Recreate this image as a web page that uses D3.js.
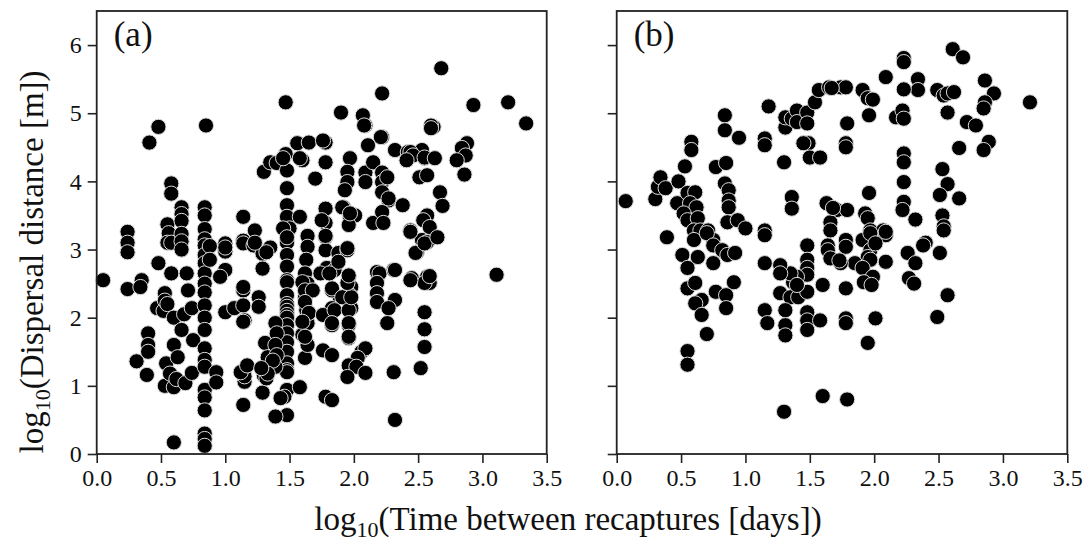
<!DOCTYPE html>
<html>
<head>
<meta charset="utf-8">
<script src="https://cdn.jsdelivr.net/npm/d3@7"></script>
<style>
html,body{margin:0;padding:0;background:#fff;}
svg{display:block;}
text{font-family:"Liberation Serif","Times New Roman",serif;fill:#111;}
</style>
</head>
<body>
<svg id="chart" width="1091" height="554"></svg>
<script>
// ---------- data ----------
const xTicks = [0, 0.5, 1.0, 1.5, 2.0, 2.5, 3.0, 3.5];
const yTicks = [0, 1, 2, 3, 4, 5, 6];
const panelLabels = ["(a)", "(b)"];

const panelA = [
[0.05,2.55],
[0.24,3.26],[0.24,3.1],[0.24,2.96],[0.24,2.42],
[0.31,1.36],[0.35,2.55],[0.34,2.45],
[0.41,4.57],[0.48,4.8],
[0.4,1.77],[0.4,1.6],[0.4,1.5],[0.39,1.16],
[0.48,2.8],
[0.47,2.14],[0.52,2.1],[0.53,2.36],[0.53,2.25],[0.55,2.2],
[0.54,1.33],[0.53,1.0],
[0.55,3.37],[0.56,3.24],[0.55,3.1],[0.58,3.97],[0.58,3.82],
[0.58,2.65],[0.58,3.1],
[0.6,2.0],[0.6,1.6],[0.63,1.42],[0.57,1.18],[0.6,0.98],[0.62,1.1],
[0.6,0.17],
[0.66,3.62],[0.66,3.52],[0.66,3.42],[0.66,3.23],[0.66,3.12],[0.66,3.0],
[0.66,1.82],[0.68,2.05],
[0.7,2.65],[0.71,2.4],
[0.69,1.04],[0.74,1.19],
[0.74,2.14],[0.75,1.67],
[0.84,3.62],[0.84,3.5],[0.84,3.3],[0.84,3.15],[0.84,3.06],[0.84,2.92],[0.84,2.8],[0.84,2.65],[0.84,2.5],[0.84,2.37],[0.84,2.18],[0.84,2.0],[0.84,1.82],[0.84,1.55],[0.84,1.38],[0.84,1.28],[0.84,0.94],[0.84,0.83],[0.84,0.64],[0.84,0.3],[0.84,0.22],[0.84,0.12],
[0.85,4.82],
[0.88,3.05],[0.88,2.85],
[0.93,1.2],[0.93,1.05],
[1.0,2.08],[1.0,3.09],[1.0,2.97],[1.0,2.7],[0.96,2.6],[1.0,3.03],
[1.07,2.14],
[1.14,3.48],
[1.14,2.4],[1.14,2.18],[1.15,1.96],[1.14,1.94],
[1.14,0.72],
[1.15,1.23],[1.15,1.06],[1.15,1.14],[1.12,1.2],[1.17,1.3],
[1.14,3.13],[1.14,3.09],[1.22,3.06],[1.29,2.94],[1.35,3.03],
[1.23,3.28],[1.23,3.1],
[1.26,2.3],[1.26,2.16],
[1.3,4.14],
[1.32,2.96],[1.29,2.72],[1.14,2.45],
[1.31,1.63],[1.29,1.26],[1.3,1.15],[1.29,0.9],[1.32,1.11],[1.33,1.42],
[1.35,4.28],[1.4,4.27],[1.47,4.4],[1.48,4.16],[1.56,4.56],[1.6,4.31],[1.65,4.57],[1.45,4.34],[1.58,4.34],[1.78,4.57],[1.78,4.28],[1.76,4.6],
[1.47,5.16],
[1.7,4.04],
[1.48,3.9],[1.48,3.65],[1.48,3.48],[1.5,3.31],[1.45,3.31],[1.48,3.1],[1.48,3.18],[1.48,2.92],[1.48,2.75],[1.48,2.55],[1.48,2.52],[1.48,2.33],[1.48,2.2],[1.48,2.16],[1.48,2.1],[1.48,2.04],[1.48,2.0],[1.48,1.89],[1.48,1.77],[1.48,1.64],[1.48,1.5],[1.48,1.33],[1.48,1.23],[1.48,1.2],[1.48,0.94],[1.46,0.84],[1.48,0.57],[1.39,0.55],
[1.39,1.92],[1.4,1.77],[1.39,1.6],[1.4,1.45],[1.39,1.28],[1.37,1.37],[1.33,1.18],[1.28,1.26],
[1.58,3.48],
[1.58,0.98],
[1.6,1.75],[1.62,1.41],[1.64,1.6],
[1.64,3.2],[1.64,3.04],[1.63,2.85],[1.62,2.65],[1.64,2.5],[1.62,2.3],[1.63,2.11],[1.64,1.92],[1.62,1.72],[1.6,2.52],[1.62,2.4],[1.68,2.4],[1.62,2.23],[1.65,2.07],[1.6,1.94],
[1.78,3.6],[1.78,3.39],[1.75,3.43],[1.78,3.18],[1.78,2.99],[1.79,2.73],[1.85,2.7],[1.88,2.95],[1.95,2.99],[1.96,2.6],[1.78,3.2],
[1.92,3.62],[1.97,3.48],[2.01,3.5],[1.96,3.36],[1.91,3.62],[1.97,3.53],
[1.88,2.82],[1.95,3.02],
[1.98,2.45],[1.97,2.33],[1.89,2.3],[1.98,2.14],[1.96,1.89],[1.96,1.7],[1.83,2.4],[1.83,2.14],[1.83,1.89],[1.76,2.04],
[1.83,2.43],[1.91,2.3],[1.85,2.11],[1.83,1.92],[1.96,2.11],[1.98,2.3],[1.96,1.92],[1.96,1.72],[1.95,2.51],[1.74,2.65],[1.81,2.65],[1.96,2.62],
[2.06,1.5],[2.09,1.55],[2.03,1.41],[1.96,1.3],[2.02,1.28],[2.09,1.19],[1.95,1.13],
[1.76,1.52],[1.83,1.45],
[1.78,0.84],[1.83,0.79],
[1.43,0.82],
[2.09,4.82],[2.62,4.8],[2.22,4.65],[2.11,4.53],[2.32,4.46],[2.42,4.43],[2.49,4.41],[2.53,4.46],[2.55,4.34],
[1.97,4.34],[1.95,4.14],[1.95,3.99],[1.93,3.87],
[2.09,4.13],[2.09,3.99],[2.15,4.28],
[2.22,4.13],[2.22,3.99],[2.22,3.84],[2.27,3.72],
[2.51,4.06],[2.57,4.09],
[2.38,3.65],[2.67,3.84],[2.69,3.64],
[2.15,3.39],[2.22,3.55],[2.23,3.39],
[2.44,3.28],
[2.57,3.5],[2.54,3.43],[2.59,3.33],[2.53,3.14],[2.57,3.11],[2.49,2.96],
[2.18,2.67],[2.2,2.65],[2.31,2.7],[2.45,2.58],[2.57,2.6],[2.59,2.51],[2.18,2.51],
[2.68,5.66],[2.22,5.29],[2.93,5.12],[3.2,5.16],[3.34,4.85],[1.9,5.01],[2.07,4.97],[2.08,4.82],[2.6,4.82],[2.6,4.78],[2.21,4.65],
[2.44,4.43],[2.46,4.38],[2.55,4.35],[2.63,4.34],[2.41,4.31],
[2.88,4.56],[2.84,4.49],[2.87,4.38],[2.8,4.31],[2.86,4.1],
[2.26,4.06],[2.27,3.75],
[3.11,2.63],[2.32,0.5],[2.31,1.2],[2.52,1.26],[2.55,1.57],[2.55,1.83],[2.55,2.08],[2.55,2.51],[2.59,2.61],[2.44,2.55],[2.32,2.7],[2.32,2.26],
[2.18,2.36],[2.18,2.23],[2.27,2.14],[2.26,1.92],
[2.48,2.95],[2.55,3.09],[2.65,3.18],[2.44,3.26]
];

const panelB = [
[0.07,3.71],
[0.3,3.74],[0.32,3.92],[0.34,4.06],[0.38,3.9],
[0.48,4.0],[0.53,4.22],[0.58,4.58],[0.58,4.46],[0.47,3.68],[0.39,3.18],
[0.55,3.83],[0.61,3.84],[0.57,3.68],[0.62,3.62],[0.52,3.53],[0.55,3.43],[0.63,3.46],[0.6,3.28],[0.65,3.28],[0.71,3.28],[0.75,3.14],[0.6,3.14],
[0.77,4.21],[0.85,4.27],[0.84,4.97],[0.84,4.75],[0.95,4.64],
[0.84,3.97],[0.87,3.87],[0.87,3.72],[0.87,3.62],[0.86,3.4],[0.94,3.43],[1.0,3.31],
[1.15,4.63],[1.15,4.53],[1.18,5.1],[1.15,3.28],[1.15,3.21],
[1.31,4.79],[1.31,4.94],[1.36,4.92],[1.4,5.04],[1.4,4.87],[1.48,5.01],[1.48,4.85],[1.49,4.56],[1.45,4.56],[1.5,4.35],[1.58,4.35],[1.54,5.16],[1.57,5.34],[1.65,5.38],[1.74,5.38],
[1.3,4.28],[1.36,3.77],[1.36,3.6],[1.63,3.68],[1.71,3.58],[1.66,3.4],[1.66,3.28],[1.48,3.06],[1.64,3.06],
[2.61,5.94],[2.69,5.82],[2.23,5.81],[2.23,5.75],[2.09,5.53],[2.34,5.5],[2.34,5.34],[2.23,5.35],[1.78,5.38],[1.67,5.37],
[1.91,5.34],[1.95,5.22],[1.99,5.2],[1.96,4.97],[1.79,4.85],[1.78,4.56],[1.78,4.5],
[2.17,4.94],[2.22,5.04],[2.23,4.92],
[2.49,5.34],[2.54,5.26],[2.57,5.29],[2.62,5.31],[2.57,5.01],
[2.86,5.48],[2.93,5.29],[2.86,5.16],[2.85,5.07],[3.21,5.16],
[2.72,4.87],[2.79,4.82],[2.66,4.49],[2.89,4.58],[2.85,4.46],
[2.23,4.41],[2.23,4.28],[2.23,3.99],[2.23,3.7],[2.22,3.58],
[1.96,3.83],[2.32,3.44],
[2.53,4.18],[2.57,3.96],[2.51,3.8],[2.66,3.75],[2.53,3.5],[2.54,3.34],[2.4,3.1],
[1.79,3.58],[1.93,3.53],[1.95,3.46],[1.97,3.28],[2.07,3.28],[2.09,3.21],[1.91,3.14],[1.78,3.14],[1.68,3.61],
[1.64,2.99],[1.78,3.04],[1.97,3.24],[1.97,2.99],[2.01,3.09],[2.09,3.26],[2.09,2.82],[1.95,2.89],[1.97,2.85],[1.85,2.8],[1.91,2.73],[1.74,2.8],[1.66,2.87],[1.99,2.6],[1.92,2.52],[1.98,2.48],
[2.26,2.95],[2.32,2.8],[2.38,3.06],[2.51,2.95],[2.27,2.58],[2.31,2.5],[2.57,2.33],[2.49,2.01],[2.01,1.99],[1.78,1.99],[1.78,1.92],[1.95,1.63],[1.6,2.48],[1.78,2.43],
[1.48,2.85],[1.48,2.73],[1.48,2.63],[1.4,2.6],[1.37,2.52],[1.35,2.65],[1.27,2.77],[1.27,2.65],[1.27,2.36],[1.35,2.3],[1.41,2.3],[1.48,2.38],[1.48,2.08],[1.48,1.96],[1.48,1.82],[1.58,1.96],
[1.15,2.8],[1.15,2.11],[1.17,1.92],[1.31,2.11],[1.31,1.89],[1.31,1.74],
[0.51,2.92],[0.55,2.73],[0.63,2.89],[0.55,2.43],[0.61,2.51],[0.66,2.26],[0.61,2.21],[0.66,2.04],[0.7,1.76],[0.55,1.51],[0.55,1.31],
[0.7,3.24],[0.75,3.06],[0.82,2.99],[0.86,2.92],[0.75,2.8],[0.92,2.95],[0.91,2.52],[0.77,2.38],[0.85,2.33],[0.85,2.14],
[1.3,0.62],[1.6,0.85],[1.79,0.8],
[2.54,3.28],[1.73,2.84],[1.4,2.48]
];

// ---------- layout ----------
const svg = d3.select("#chart");
const plotTop = 11, plotBottom = 454;
const panels = [
  {data: panelA, left: 96.7, right: 546.7, label: panelLabels[0], yLabels: true},
  {data: panelB, left: 616.7, right: 1067.3, label: panelLabels[1], yLabels: false}
];

panels.forEach(p => {
  const x = d3.scaleLinear().domain([0, 3.5]).range([p.left, p.right]);
  const y = d3.scaleLinear().domain([0, 6.5]).range([plotBottom, plotTop]);
  const g = svg.append("g");

  // points
  g.append("g").selectAll("circle").data(p.data).join("circle")
    .attr("cx", d => x(d[0])).attr("cy", d => y(d[1]))
    .attr("r", 7.6)
    .attr("fill", "#000")
    .attr("stroke", "#ddd")
    .attr("stroke-width", 1);

  // axes
  const xa = g.append("g").attr("transform", `translate(0,${plotBottom})`)
    .call(d3.axisBottom(x).tickValues(xTicks).tickFormat(d3.format(".1f")).tickSize(9).tickPadding(6).tickSizeOuter(0));
  const ya = g.append("g").attr("transform", `translate(${p.left},0)`)
    .call(d3.axisLeft(y).tickValues(yTicks).tickFormat(p.yLabels ? d3.format("d") : () => "").tickSize(9).tickPadding(6).tickSizeOuter(0));
  [xa, ya].forEach(a => {
    a.select(".domain").remove();
    a.selectAll(".tick line").attr("stroke", "#222").attr("stroke-width", 1.6);
    a.selectAll(".tick text").attr("font-size", 24).attr("fill", "#111")
      .style("font-family", '"Liberation Serif", serif');
  });

  // frame
  g.append("rect").attr("x", p.left).attr("y", plotTop)
    .attr("width", p.right - p.left).attr("height", plotBottom - plotTop)
    .attr("fill", "none").attr("stroke", "#222").attr("stroke-width", 1.8);

  // panel label
  g.append("text").attr("x", p.left + 17).attr("y", 46)
    .attr("font-size", 35).text(p.label);
});

// axis titles
const xt = svg.append("text").attr("x", 568).attr("y", 530)
  .attr("text-anchor", "middle").attr("font-size", 33);
xt.append("tspan").text("log");
xt.append("tspan").attr("font-size", 22).attr("dy", 7).text("10");
xt.append("tspan").attr("dy", -7).text("(Time between recaptures [days])");

const yt = svg.append("text")
  .attr("transform", "translate(43,262) rotate(-90)")
  .attr("text-anchor", "middle").attr("font-size", 33);
yt.append("tspan").text("log");
yt.append("tspan").attr("font-size", 22).attr("dy", 7).text("10");
yt.append("tspan").attr("dy", -7).text("(Dispersal distance [m])");
</script>
</body>
</html>
